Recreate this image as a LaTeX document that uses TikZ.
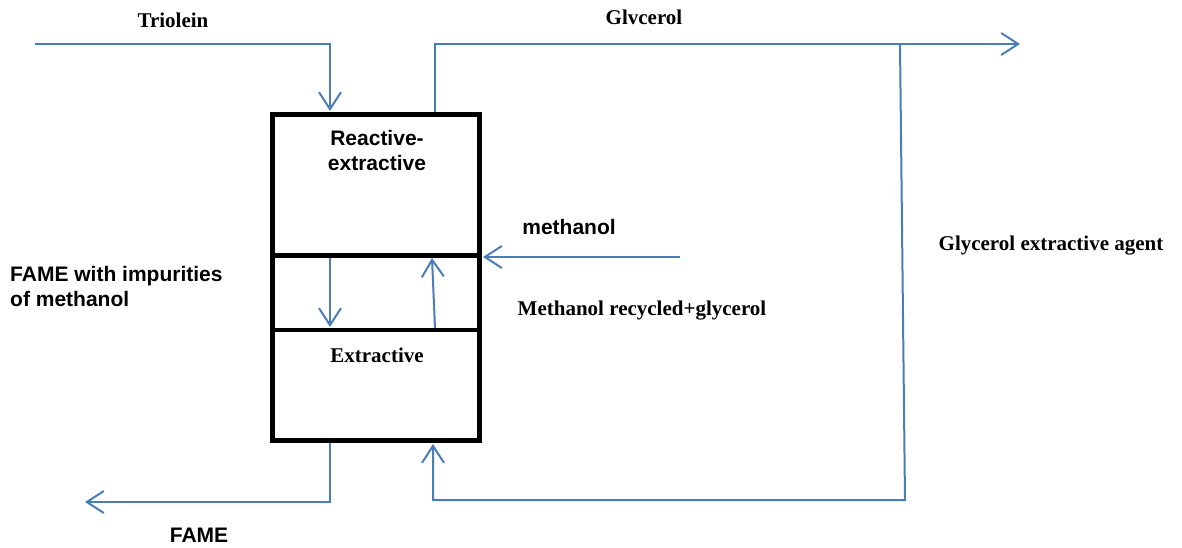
\documentclass[tikz,border=0pt]{standalone}
\usepackage{fontspec}
\setmainfont{Liberation Serif}
\setsansfont{Liberation Sans}
\usetikzlibrary{arrows.meta}
\definecolor{flowblue}{RGB}{74,126,187}
\tikzset{
  flow/.style={draw=flowblue, line width=2pt, -{Straight Barb[length=17pt,width=22pt,line width=2pt]}},
  unit/.style={draw=black, line width=4.5pt, rectangle, minimum width=207pt, anchor=north west, inner sep=0pt, outer sep=0pt},
  serlab/.style={font=\fontsize{21}{25}\selectfont\bfseries\rmfamily, inner sep=0pt},
  sanlab/.style={font=\fontsize{21}{25}\selectfont\bfseries\sffamily, inner sep=0pt}
}
\begin{document}
\begin{tikzpicture}[x=1pt,y=-1pt]
\useasboundingbox (0,0) rectangle (1182,547);
% free ends
\coordinate (tri0) at (35,44);
\coordinate (gly1) at (1020,44);
\coordinate (br0) at (900,44);
\coordinate (br1) at (905,500);
\coordinate (meth0) at (680,257);
\coordinate (fame0) at (85,502);
% connectors (drawn first)
\draw[flow] (tri0) -| (330,111);
\draw[flow] (435,112) |- (gly1);
\draw[flow] (br0) -- (br1) -| (433,444);
\draw[flow] (meth0) -- (483,257);
\draw[flow] (330,258) -- (330,327);
\draw[flow] (435,328) -- (432,258);
\draw[flow] (330,443) |- (fame0);
% units
\node[unit, minimum height=141pt] (top) at (272.5,114.5) {};
\node[unit, minimum height=74.5pt] (mid) at (272.5,255.5) {};
\node[unit, minimum height=110.5pt] (bot) at (272.5,330) {};
% labels
\node[sanlab, align=center, anchor=north] (rxl) at (377,130) {Reactive-\\extractive};
\node[serlab] (exl) at (377,355) {Extractive};
\node[serlab] (tril) at (173,20) {Triolein};
\node[serlab] (glyl) at (644,17) {Glvcerol};
\node[sanlab] (methl) at (569,227) {methanol};
\node[serlab] (recl) at (642,311) {Methanol recycled+glycerol};
\node[serlab] (agl) at (1051,246) {Glycerol extractive agent};
\node[sanlab, align=left, anchor=north west] (impl) at (10,266) {FAME with impurities\\of methanol};
\node[sanlab] (famel) at (199,535) {FAME};
\end{tikzpicture}
\end{document}
